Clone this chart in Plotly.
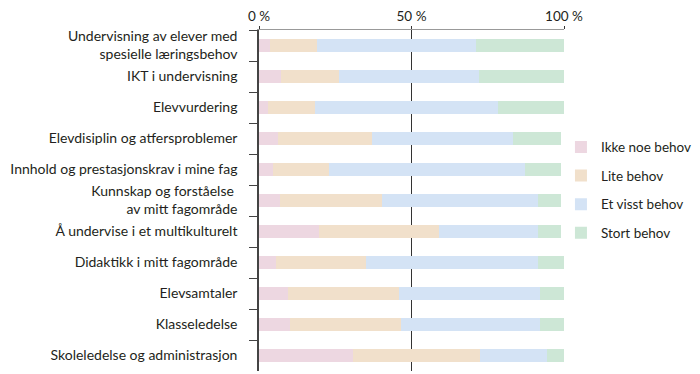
import plotly.graph_objects as go

categories = [
    "Undervisning av elever med<br>spesielle læringsbehov",
    "IKT i undervisning",
    "Elevvurdering",
    "Elevdisiplin og atfersproblemer",
    "Innhold og prestasjonskrav i mine fag",
    "Kunnskap og forståelse <br>av mitt fagområde",
    "Å undervise i et multikulturelt",
    "Didaktikk i mitt fagområde",
    "Elevsamtaler",
    "Klasseledelse",
    "Skoleledelse og administrasjon",
]

ikke_noe = [3.5, 7.3, 2.8, 6.2, 4.6, 6.8, 19.6, 5.7, 9.5, 10.1, 30.9]
lite = [15.6, 19.0, 15.6, 30.7, 18.4, 33.4, 39.5, 29.3, 36.3, 36.3, 41.6]
et_visst = [52.0, 45.9, 59.8, 46.5, 64.1, 51.4, 32.5, 56.6, 46.4, 45.8, 21.9]
stort = [28.9, 27.8, 21.8, 16.6, 12.9, 8.4, 8.4, 8.4, 7.8, 7.8, 5.6]

series_names = ["Ikke noe behov", "Lite behov", "Et visst behov", "Stort behov"]
series_values = [ikke_noe, lite, et_visst, stort]
colors = ["#EDD7E1", "#F1E0CB", "#D4E3F5", "#CDE7D6"]

tick_vals = [0, 50, 100]
tick_text = ["0 %", "50 %", "100 %"]

fig = go.Figure()
for name, vals, col in zip(series_names, series_values, colors):
    fig.add_trace(go.Bar(
        y=categories, x=vals, name=name, orientation="h",
        marker=dict(color=col, line=dict(width=0)),
        width=0.42, legendgroup=name,
    ))

font_family = "Lato, 'Open Sans', sans-serif"
# page body has an 8px default margin, so the figure is 8px smaller
fig.update_layout(
    width=692, height=366,
    barmode="stack",
    margin=dict(l=251, r=136, t=22, b=3, autoexpand=False),
    plot_bgcolor="white", paper_bgcolor="white",
    font=dict(family=font_family, size=14, color="#231F20"),
    showlegend=True,
    legend=dict(x=0.99, xanchor="left", y=0.53, yanchor="middle",
                traceorder="grouped", tracegroupgap=8,
                font=dict(size=13.5), itemwidth=30),
    xaxis=dict(side="top", range=[0, 100], tickvals=tick_vals, ticktext=tick_text,
               showgrid=True, gridcolor="#333", gridwidth=1,
               showline=True, linecolor="#999", linewidth=1,
               ticks="outside", ticklen=3, tickcolor="#333",
               tickfont=dict(size=13.5),
               zeroline=False, fixedrange=True, automargin=False),
    yaxis=dict(autorange="reversed", showline=True, linecolor="#444", linewidth=1.5,
               ticks="outside", ticklen=8, tickcolor="#444", tickson="boundaries",
               ticklabelstandoff=17, showgrid=False, automargin=False),
)

fig.write_html("out.html")
